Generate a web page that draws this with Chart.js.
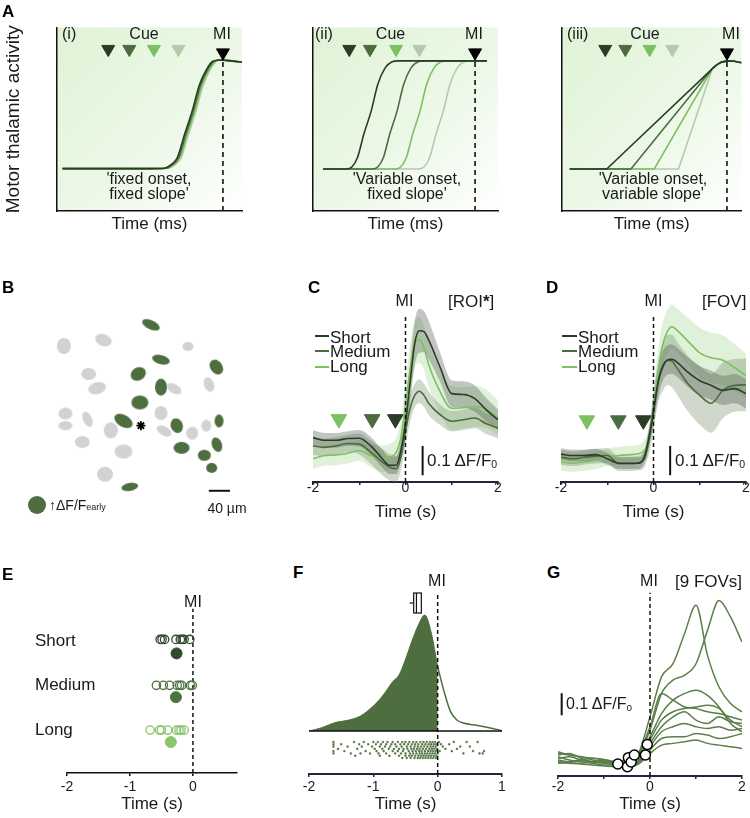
<!DOCTYPE html>
<html><head><meta charset="utf-8">
<script src="https://cdn.jsdelivr.net/npm/chart.js@4"></script>
<style>
html,body{margin:0;padding:0;background:#fff;}
#root{position:relative;width:750px;height:818px;overflow:hidden;font-family:"Liberation Sans",Arial,Helvetica,sans-serif;color:#1a1a1a;}
canvas{position:absolute;}
</style></head><body><div id="root"></div>
<script>
// ======================= DATA =======================
// Panel A (schematic): x = time (arbitrary 0-100), y = activity (0-1)
const aiCurve1 = [[3,.231],[50,.231],[58,.233],[62,.255],[65,.29],[69,.419],[73,.543],[77,.688],[81,.774],[84,.815],[88,.823],[95,.817],[100,.812]];
const aiCurve2 = [[3,.231],[50,.231],[58.7,.233],[62.7,.255],[65.7,.29],[69.7,.419],[73.7,.543],[77.7,.688],[81.7,.774],[84.7,.815],[88.4,.823],[95,.817],[100,.812]];
const aiCurve3 = [[3,.231],[50,.231],[59.4,.233],[63.4,.255],[66.4,.29],[70.4,.419],[74.4,.543],[78.4,.688],[82.4,.774],[85.4,.815],[88.8,.823],[95,.817],[100,.812]];
const aiCurve4 = [[3,.231],[50,.231],[60.1,.233],[64.1,.255],[67.1,.29],[71.1,.419],[75.1,.543],[79.1,.688],[83.1,.774],[86.1,.815],[89.2,.823],[95,.817],[100,.812]];
const aiiCurve1 = [[5.4,.229],[18,.229],[21,.24],[24,.29],[27.5,.42],[31.4,.543],[35,.69],[39,.78],[42.5,.812],[46,.818],[94,.818]];
const aiiCurve2 = [[5.4,.229],[32,.229],[35,.24],[38,.29],[41.5,.42],[45.4,.543],[49,.69],[53,.78],[56.5,.812],[60,.818],[94,.818]];
const aiiCurve3 = [[5.4,.229],[44.4,.229],[47.4,.24],[50.4,.29],[53.9,.42],[57.8,.543],[61.4,.69],[65.4,.78],[68.9,.812],[72.4,.818],[94,.818]];
const aiiCurve4 = [[5.4,.229],[57,.229],[60,.24],[63,.29],[66.5,.42],[70.4,.543],[74,.69],[78,.78],[81.5,.812],[85,.818],[94,.818]];
const aiiiCurve1 = [[4.3,.229],[24.9,.229],[83.8,.776],[86,.795],[88.5,.81],[92,.818],[96,.816],[100,.808]];
const aiiiCurve2 = [[4.3,.229],[38.4,.229],[83.8,.776],[86,.795],[88.5,.81],[92,.818],[96,.816],[100,.808]];
const aiiiCurve3 = [[4.3,.229],[51.4,.229],[83.8,.776],[86,.795],[88.5,.81],[92,.818],[96,.816],[100,.808]];
const aiiiCurve4 = [[4.3,.229],[64.9,.229],[83.8,.776],[86,.795],[88.5,.81],[92,.818],[96,.816],[100,.808]];
const aiCue = [27.7,39.1,52.4,65.6];
const aiiCue = [19.6,30.8,44.9,57.5];
const aiiiCue = [24.1,35.3,48.8,61.5];
const aMI = [89.7,87.6,91.9];
const cueLevel = 0.882, miLevel = 0.863, miDashTop = 0.828;

// Panel B: ROI centres (µm) and shapes
const bGrayX = [47,122,282,94,110,322,256,50,50,92,136,231,237,290,317,82,160,125];
const bGrayY = [70,59,71,123,150,143,151,198,221,209,230,197,231,235,221,252,270,313];
const bGreenX = [212,231,336,188,231,191,160,261,341,270,337,313,327,172];
const bGreenY = [30,96,110,123,148,177,212,221,212,263,257,277,301,337];
const bStar = [193,221];

// Panels C & D: time grid (s), mean ΔF/F and s.e.m.
const gridCD = [-2,-1.75,-1.5,-1.25,-1,-0.75,-0.5,-0.35,-0.2,-0.1,0,0.1,0.2,0.3,0.4,0.5,0.75,1,1.25,1.5,1.75,2];
const cShort  = [0,-0.009,-0.009,-0.003,-0.002,-0.028,-0.072,-0.094,-0.094,-0.044,0.05,0.189,0.322,0.364,0.361,0.333,0.239,0.15,0.147,0.133,0.094,0.061];
const cMedium = [-0.028,-0.033,-0.028,-0.02,-0.022,-0.05,-0.083,-0.1,-0.106,-0.067,0.022,0.1,0.144,0.158,0.144,0.117,0.078,0.056,0.061,0.067,0.047,0.033];
const cLong   = [-0.072,-0.061,-0.059,-0.053,-0.044,-0.061,-0.072,-0.067,-0.05,0,0.111,0.233,0.317,0.333,0.306,0.25,0.156,0.1,0.102,0.106,0.098,0.067];
const cShortSem  = [0.025,0.025,0.025,0.025,0.028,0.03,0.03,0.03,0.03,0.035,0.05,0.07,0.075,0.075,0.07,0.065,0.05,0.045,0.045,0.045,0.04,0.035];
const cMediumSem = [0.03,0.03,0.03,0.03,0.035,0.04,0.045,0.045,0.045,0.045,0.05,0.045,0.04,0.04,0.04,0.04,0.035,0.035,0.035,0.035,0.035,0.035];
const cLongSem   = [0.035,0.035,0.035,0.035,0.035,0.04,0.045,0.045,0.05,0.06,0.08,0.085,0.08,0.078,0.075,0.075,0.075,0.075,0.07,0.07,0.065,0.06];
const dShort  = [-0.056,-0.061,-0.061,-0.058,-0.072,-0.087,-0.087,-0.087,-0.067,0,0.089,0.189,0.244,0.264,0.267,0.258,0.222,0.194,0.178,0.161,0.167,0.15];
const dMedium = [-0.067,-0.072,-0.067,-0.063,-0.061,-0.089,-0.089,-0.087,-0.072,-0.011,0.089,0.189,0.239,0.264,0.261,0.239,0.183,0.144,0.117,0.161,0.178,0.18];
const dLong   = [-0.083,-0.087,-0.083,-0.078,-0.067,-0.061,-0.058,-0.056,-0.044,-0.011,0.089,0.222,0.317,0.361,0.378,0.367,0.328,0.289,0.272,0.264,0.239,0.211];
const dShortSem  = [0.02,0.02,0.02,0.02,0.02,0.02,0.02,0.02,0.02,0.03,0.04,0.05,0.05,0.05,0.05,0.05,0.05,0.05,0.05,0.05,0.05,0.05];
const dMediumSem = [0.025,0.025,0.025,0.025,0.025,0.025,0.025,0.025,0.03,0.04,0.06,0.07,0.08,0.085,0.09,0.09,0.095,0.1,0.1,0.095,0.09,0.09];
const dLongSem   = [0.03,0.03,0.03,0.03,0.03,0.03,0.03,0.03,0.035,0.05,0.07,0.075,0.075,0.075,0.075,0.075,0.08,0.085,0.085,0.085,0.08,0.075];
const cCueT = [-1.44,-0.72,-0.22];
const dCueT = [-1.44,-0.76,-0.22];

// Panel E: onset times (s) per FOV and means
const eShort  = [-0.52,-0.49,-0.45,-0.27,-0.2,-0.17,-0.14,-0.05];
const eMedium = [-0.58,-0.47,-0.37,-0.25,-0.21,-0.18,-0.04,-0.01];
const eLong   = [-0.68,-0.53,-0.5,-0.4,-0.26,-0.22,-0.19,-0.14];
const eMeans  = [-0.26,-0.27,-0.35];
const eErr    = [0.05,0.05,0.05];
const eRowY   = [8.12,5.33,2.61];
const eMeanY  = [7.27,4.61,1.88];

// Panel F: onset density (arb.), box stats, raster of onsets
const fT1 = [-2,-1.8,-1.6,-1.4,-1.2,-1,-0.9,-0.8,-0.7,-0.6,-0.5,-0.4,-0.3,-0.2,-0.1,0];
const fD1 = [0,10,25,32,45,75,95,120,148,168,215,270,318,348,295,193];
const fT2 = [0,0.1,0.2,0.3,0.4,0.6,0.8,1.0];
const fD2 = [193,118,58,33,24,17,10,1];
const fBox = [-0.435,-0.373,-0.33,-0.254,-0.254];
const fRaster = [
  [-1.62,-1.3,-1.15,-1.0,-0.93,-0.85,-0.78,-0.7,-0.62,-0.55,-0.5,-0.44,-0.38,-0.33,-0.27,-0.22,-0.17,-0.12,-0.08,-0.04,0.02,0.25,0.45,0.62],
  [-1.62,-1.5,-1.22,-1.08,-0.96,-0.88,-0.8,-0.72,-0.66,-0.58,-0.52,-0.46,-0.4,-0.35,-0.3,-0.24,-0.19,-0.14,-0.1,-0.06,-0.02,0.05,0.18],
  [-1.62,-1.4,-1.18,-1.02,-0.9,-0.82,-0.74,-0.64,-0.56,-0.48,-0.42,-0.36,-0.31,-0.26,-0.21,-0.16,-0.11,-0.07,-0.03,0.08,0.35,0.5],
  [-1.55,-1.25,-0.98,-0.86,-0.76,-0.68,-0.6,-0.53,-0.47,-0.41,-0.37,-0.32,-0.28,-0.23,-0.18,-0.13,-0.09,-0.05,-0.01,0.12,0.3],
  [-1.62,-1.45,-1.12,-0.95,-0.84,-0.7,-0.62,-0.54,-0.45,-0.39,-0.34,-0.29,-0.25,-0.2,-0.15,-0.11,-0.07,-0.03,0.03,0.22,0.55,0.72],
  [-1.62,-1.35,-1.2,-1.05,-0.92,-0.8,-0.66,-0.57,-0.5,-0.43,-0.38,-0.33,-0.28,-0.24,-0.2,-0.16,-0.12,-0.08,-0.04,0.0,0.4,0.65,0.7],
  [-1.28,-0.9,-0.75,-0.6,-0.5,-0.44,-0.4,-0.35,-0.3,-0.26,-0.22,-0.18,-0.14,-0.1,-0.06,-0.02],
  [-0.55,-0.48,-0.42,-0.36,-0.31,-0.27,-0.23,-0.19,-0.15,-0.11,-0.07,-0.03]
];

// Panel G: 9 FOV mean traces (ΔF/F) and onsets
const gGrid = [-2,-1.75,-1.5,-1.25,-1,-0.75,-0.5,-0.25,0,0.25,0.5,0.75,1,1.25,1.5,1.75,2];
const gFov1 = [0.038,0.023,0.015,0,-0.008,-0.015,-0.012,0.03,0.197,0.379,0.439,0.576,0.705,0.477,0.333,0.258,0.22];
const gFov2 = [0.023,0.03,0.008,-0.008,0,-0.008,-0.008,0.023,0.136,0.303,0.364,0.386,0.439,0.591,0.727,0.652,0.538];
const gFov3 = [0.008,0.015,0,-0.008,-0.012,-0.008,0,0.03,0.152,0.303,0.273,0.242,0.235,0.22,0.212,0.197,0.182];
const gFov4 = [0,-0.008,0,0.008,0,-0.012,-0.015,0.015,0.106,0.212,0.273,0.303,0.318,0.295,0.242,0.167,0.129];
const gFov5 = [-0.008,-0.012,-0.015,-0.008,-0.008,-0.015,-0.023,0,0.091,0.182,0.22,0.235,0.242,0.25,0.235,0.182,0.152];
const gFov6 = [0.03,0.023,0.015,0.008,0.003,-0.008,-0.015,0,0.076,0.152,0.197,0.22,0.182,0.167,0.197,0.174,0.167];
const gFov7 = [-0.015,-0.008,0,-0.008,-0.015,-0.023,-0.023,-0.008,0.061,0.129,0.152,0.167,0.152,0.144,0.152,0.136,0.144];
const gFov8 = [0.015,0,-0.008,-0.015,-0.023,-0.023,-0.03,-0.012,0.045,0.098,0.106,0.106,0.121,0.114,0.098,0.106,0.121];
const gFov9 = [-0.012,-0.015,-0.018,-0.023,-0.027,-0.03,-0.033,-0.018,0.03,0.068,0.076,0.083,0.091,0.076,0.068,0.061,0.053];
const gOnsetT = [-0.70,-0.49,-0.47,-0.41,-0.34,-0.10,-0.06];
const gOnsetV = [-0.018,-0.03,0.011,-0.009,0.023,0.023,0.071];

// ======================= STYLE =======================
const FONT = '"Liberation Sans", Arial, Helvetica, sans-serif';
const TXT = '#1a1a1a', AX = '#25253a';
const cDark = '#2a3c26', cMed = '#4b6c3f', cLight = '#7dc062', cPale = '#b3cba8';
const green = '#4e6e3f';
Chart.defaults.font.family = FONT;
Chart.defaults.color = TXT;

const root = document.getElementById('root');
function mk(left, top, w, h, cfg) {
  const c = document.createElement('canvas');
  c.width = w; c.height = h;
  c.style.left = left + 'px'; c.style.top = top + 'px';
  c.style.width = w + 'px'; c.style.height = h + 'px';
  root.appendChild(c);
  cfg.options = cfg.options || {};
  Object.assign(cfg.options, {responsive:false, maintainAspectRatio:false, animation:false, devicePixelRatio:1, events:[]});
  cfg.options.plugins = Object.assign({legend:{display:false}, tooltip:{enabled:false}}, cfg.options.plugins || {});
  return new Chart(c, cfg);
}
function txt(x, base, html, size, align, extra) {
  const d = document.createElement('div');
  d.innerHTML = html;
  const tx = align === 'center' ? '-50%' : (align === 'right' ? '-100%' : '0');
  d.style.cssText = 'position:absolute;left:' + x + 'px;top:' + (base - 0.8465 * size) + 'px;font-size:' + size + 'px;line-height:1;white-space:nowrap;transform:translateX(' + tx + ');' + (extra || '');
  root.appendChild(d);
}
function box(left, top, w, h, css) {
  const d = document.createElement('div');
  d.style.cssText = 'position:absolute;left:' + left + 'px;top:' + top + 'px;width:' + w + 'px;height:' + h + 'px;' + css;
  root.appendChild(d);
}
const pairs = arr => arr.map(p => ({x:p[0], y:p[1]}));
const pts = (xs, ys) => xs.map((x, i) => ({x:x, y:ys[i]}));
const SUB0 = '<span style="font-size:0.62em;vertical-align:-0.22em">0</span>';

// ======================= PANEL A =======================
const aCols = [cDark, cMed, cLight, cPale];
const aBg = {id:'aBg', beforeDraw(ch) {
  const ctx = ch.ctx, a = ch.chartArea;
  const g = ctx.createLinearGradient(a.left, a.top, a.right, a.bottom);
  g.addColorStop(0, '#dff3d6'); g.addColorStop(0.55, '#ecf8e7'); g.addColorStop(1, '#ffffff');
  ctx.save(); ctx.fillStyle = g; ctx.fillRect(a.left, a.top, a.right - a.left, a.bottom - a.top); ctx.restore();
}};
function aChart(left, width, padL, padR, yW, yTitle, curves, cues, miT, straight) {
  const ds = curves.map((c, i) => ({data:pairs(c), borderColor:aCols[i], borderWidth:1.6, pointRadius:0, fill:false, tension:0,
    cubicInterpolationMode: straight ? 'default' : 'monotone', order:2}));
  ds.push({data:cues.map(t => ({x:t, y:cueLevel})), showLine:false, pointStyle:'triangle', pointRotation:180, pointRadius:7.5,
    pointBackgroundColor:aCols, pointBorderColor:aCols, pointBorderWidth:1, order:1});
  ds.push({data:[{x:miT, y:miLevel}], showLine:false, pointStyle:'triangle', pointRotation:180, pointRadius:7.5,
    pointBackgroundColor:'#000', pointBorderColor:'#000', pointBorderWidth:1, order:1});
  ds.push({data:[{x:miT, y:0}, {x:miT, y:miDashTop}], borderColor:'#111', borderWidth:1.6, borderDash:[5,4], pointRadius:0, order:3});
  return mk(left, 19, width, 216, {type:'line', data:{datasets:ds}, plugins:[aBg], options:{
    layout:{padding:{left:padL, right:padR, top:6, bottom:0}},
    scales:{
      x:{type:'linear', min:0, max:100, ticks:{display:false}, grid:{display:false}, border:{display:true, color:'#111', width:1.5},
         title:{display:true, text:'Time (ms)', font:{size:17}, padding:0, color:TXT}, afterFit: s => { s.height = 24; }},
      y:{min:0, max:1, ticks:{display:false}, grid:{display:false}, border:{display:true, color:'#111', width:1.5},
         title: yTitle ? {display:true, text:yTitle, font:{size:19}, padding:{top:2, bottom:0}, color:TXT} : {display:false},
         afterFit: s => { s.width = yW; }}
    }}});
}
aChart(0, 254, 0, 12, 57, 'Motor thalamic activity', [aiCurve1, aiCurve2, aiCurve3, aiCurve4], aiCue, aMI[0], false);
aChart(301, 209, 12, 12, 0, null, [aiiCurve1, aiiCurve2, aiiCurve3, aiiCurve4], aiiCue, aMI[1], false);
aChart(550, 200, 12, 3, 0, null, [aiiiCurve1, aiiiCurve2, aiiiCurve3, aiiiCurve4], aiiiCue, aMI[2], true);

// ======================= PANEL B =======================
const bGrayW = [14,17,11,15,18,10,16,14,14,9,14,13,16,12,10,15,18,16];
const bGrayH = [16,12,9,12,12,15,9,12,9,16,16,14,9,13,12,12,14,15];
const bGrayRot = [0,20,0,0,-15,-20,30,0,0,-25,0,0,30,0,0,0,0,0];
const bGreenW = [19,18,12,16,12,17,20,12,9,16,10,13,11,17];
const bGreenH = [9,9,16,13,17,14,12,15,13,12,15,11,10,8];
const bGreenRot = [25,15,-35,-30,0,0,30,-20,0,0,-20,0,0,-10];
function ell(w, h, col) {
  const c = document.createElement('canvas');
  c.width = Math.ceil(w) + 2; c.height = Math.ceil(h) + 2;
  const x = c.getContext('2d');
  x.fillStyle = col; x.beginPath(); x.ellipse(c.width / 2, c.height / 2, w / 2, h / 2, 0, 0, Math.PI * 2); x.fill();
  return c;
}
const umMax = 382.6;
mk(30, 300, 220, 220, {type:'scatter', data:{datasets:[
  {data:pts(bGrayX, bGrayY), pointStyle:bGrayW.map((w, i) => ell(w, bGrayH[i], '#d2d2d2')), pointRotation:bGrayRot, pointRadius:8, clip:false},
  {data:pts(bGreenX, bGreenY), pointStyle:bGreenW.map((w, i) => ell(w, bGreenH[i], green)), pointRotation:bGreenRot, pointRadius:8, clip:false},
  {data:[{x:bStar[0], y:bStar[1]}], pointStyle:'star', pointRadius:4.5, pointBorderColor:'#000', pointBorderWidth:1.8},
  {data:[{x:321.7, y:344.3}, {x:361.7, y:344.3}], showLine:true, borderColor:'#111', borderWidth:2, pointRadius:0}
]}, options:{layout:{padding:0}, scales:{
  x:{display:false, min:0, max:umMax}, y:{display:false, min:0, max:umMax, reverse:true}}}});

// ======================= PANELS C & D =======================
function cdChart(left, S, M, L, Ss, Ms, Ls, cueT, cueV, barT) {
  const ds = [];
  const band = (mean, sem, col, ord) => {
    ds.push({data:gridCD.map((t, i) => ({x:t, y:mean[i] + sem[i]})), fill:'+1', backgroundColor:col, borderColor:'rgba(0,0,0,0)', borderWidth:0, pointRadius:0, cubicInterpolationMode:'monotone', order:ord});
    ds.push({data:gridCD.map((t, i) => ({x:t, y:mean[i] - sem[i]})), fill:false, borderColor:'rgba(0,0,0,0)', borderWidth:0, pointRadius:0, cubicInterpolationMode:'monotone', order:ord});
  };
  band(L, Ls, 'rgba(160,212,140,0.32)', 9);
  band(M, Ms, 'rgba(110,138,98,0.33)', 8);
  band(S, Ss, 'rgba(70,82,66,0.33)', 7);
  const line = (d, col, ord) => ds.push({data:pts(gridCD, d), borderColor:col, borderWidth:1.6, pointRadius:0, fill:false, cubicInterpolationMode:'monotone', order:ord});
  line(L, cLight, 4); line(M, cMed, 3); line(S, cDark, 2);
  ds.push({data:[{x:0, y:-0.1511}, {x:0, y:0.42}], borderColor:'#111', borderWidth:1.5, borderDash:[4,3], pointRadius:0, order:1});
  const tc = [cLight, cMed, cDark];
  ds.push({data:cueT.map(t => ({x:t, y:cueV})), showLine:false, pointStyle:'triangle', pointRotation:180, pointRadius:9,
    pointBackgroundColor:tc, pointBorderColor:tc, pointBorderWidth:1, order:0});
  ds.push({data:[{x:barT, y:-0.128}, {x:barT, y:-0.028}], borderColor:'#111', borderWidth:2, pointRadius:0, order:0});
  return mk(left, 290, 209, 233, {type:'line', data:{datasets:ds}, options:{
    layout:{padding:{left:12, right:12, top:6, bottom:0}},
    scales:{
      x:{type:'linear', min:-2, max:2, afterBuildTicks: s => { s.ticks = [-2,-1,0,1,2].map(v => ({value:v})); },
         ticks:{callback: v => (v % 2 === 0 ? String(v) : ''), font:{size:14, lineHeight:1}, padding:-4, color:TXT, maxRotation:0, autoSkip:false},
         grid:{display:true, drawOnChartArea:false, drawTicks:true, tickLength:3, color:AX, lineWidth:1.5},
         border:{display:true, color:AX, width:2},
         title:{display:true, text:'Time (s)', font:{size:17}, padding:0, color:TXT}, afterFit: s => { s.height = 41; }},
      y:{display:false, min:-0.1511, max:0.4689}
    }}});
}
cdChart(301, cShort, cMedium, cLong, cShortSem, cMediumSem, cLongSem, cCueT, 0.063, 0.37);
cdChart(549, dShort, dMedium, dLong, dShortSem, dMediumSem, dLongSem, dCueT, 0.059, 0.36);

// ======================= PANEL E =======================
const eCols = ['#2f4a2b', '#4d7341', '#88c56c'];
const eOpen = [eShort, eMedium, eLong];
const eDs = [];
eOpen.forEach((row, r) => {
  eDs.push({data:row.map(t => ({x:t, y:eRowY[r]})), showLine:false, pointStyle:'circle', pointRadius:4.2,
    pointBackgroundColor:'rgba(255,255,255,0)', pointBorderColor:eCols[r], pointBorderWidth:1.3, order:2});
  eDs.push({data:[{x:eMeans[r] - eErr[r], y:eMeanY[r]}, {x:eMeans[r] + eErr[r], y:eMeanY[r]}], borderColor:eCols[r], borderWidth:1.5, pointRadius:0, order:2});
  eDs.push({data:[{x:eMeans[r], y:eMeanY[r]}], showLine:false, pointStyle:'circle', pointRadius:5.5,
    pointBackgroundColor:eCols[r], pointBorderColor:eCols[r], pointBorderWidth:1, order:1});
});
eDs.push({data:[{x:0, y:0}, {x:0, y:10}], borderColor:'#111', borderWidth:1.5, borderDash:[4,3], pointRadius:0, order:3});
mk(55, 602, 194, 213, {type:'line', data:{datasets:eDs}, options:{
  layout:{padding:{left:12, right:12, top:6, bottom:0}},
  scales:{
    x:{type:'linear', min:-2, max:0.7, afterBuildTicks: s => { s.ticks = [-2,-1,0].map(v => ({value:v})); },
       ticks:{callback: v => String(v), font:{size:14, lineHeight:1}, padding:4, color:TXT, maxRotation:0, autoSkip:false},
       grid:{display:true, drawOnChartArea:false, drawTicks:true, tickLength:3, color:'#111', lineWidth:1.5},
       border:{display:true, color:'#111', width:1.5},
       title:{display:true, text:'Time (s)', font:{size:17}, padding:0, color:TXT}, afterFit: s => { s.height = 42; }},
    y:{display:false, min:0, max:10}
  }}});

// ======================= PANEL F =======================
const fRasterPts = [];
fRaster.forEach((row, i) => row.forEach(t => fRasterPts.push({x:t, y:i + 1})));
const fBoxPlugin = {id:'fBox', afterDatasetsDraw(ch) {
  const ctx = ch.ctx, xs = ch.scales.x, ys = ch.scales.y;
  const yt = ys.getPixelForValue(414), yb = ys.getPixelForValue(354), ym = (yt + yb) / 2;
  const [mn, q1, md, q3, mx] = fBox.map(v => xs.getPixelForValue(v));
  ctx.save(); ctx.strokeStyle = '#111'; ctx.lineWidth = 1.2; ctx.fillStyle = '#fff';
  ctx.beginPath(); ctx.moveTo(mn, ym); ctx.lineTo(q1, ym); ctx.moveTo(q3, ym); ctx.lineTo(mx, ym); ctx.stroke();
  ctx.fillRect(q1, yt, q3 - q1, yb - yt); ctx.strokeRect(q1, yt, q3 - q1, yb - yt);
  ctx.beginPath(); ctx.moveTo(md, yt); ctx.lineTo(md, yb); ctx.stroke();
  ctx.restore();
}};
mk(297, 584, 217, 231, {type:'line', data:{datasets:[
  {data:pts(fT1, fD1), fill:'origin', backgroundColor:green, borderColor:green, borderWidth:1, pointRadius:0, cubicInterpolationMode:'monotone', order:3},
  {data:pts(fT2, fD2), fill:false, borderColor:green, borderWidth:1.5, pointRadius:0, cubicInterpolationMode:'monotone', order:3},
  {data:[{x:-2, y:0}, {x:1, y:0}], borderColor:'#111', borderWidth:1.5, pointRadius:0, order:2},
  {data:fRasterPts, yAxisID:'y2', showLine:false, pointStyle:'rect', pointRadius:1.1, pointBackgroundColor:green, pointBorderColor:green, pointBorderWidth:0.5, order:2},
  {data:[{x:0, y:-129}, {x:0, y:414}], borderColor:'#111', borderWidth:1.5, borderDash:[4,3], pointRadius:0, order:1}
]}, plugins:[fBoxPlugin], options:{
  layout:{padding:{left:12, right:12, top:6, bottom:0}},
  scales:{
    x:{type:'linear', min:-2, max:1, afterBuildTicks: s => { s.ticks = [-2,-1,0,1].map(v => ({value:v})); },
       ticks:{callback: v => String(v), font:{size:14, lineHeight:1}, padding:3, color:TXT, maxRotation:0, autoSkip:false},
       grid:{display:true, drawOnChartArea:false, drawTicks:true, tickLength:3, color:AX, lineWidth:1.5},
       border:{display:true, color:AX, width:2},
       title:{display:true, text:'Time (s)', font:{size:17}, padding:0, color:TXT}, afterFit: s => { s.height = 41; }},
    y:{display:false, min:-129, max:423},
    y2:{display:false, min:-65.5, max:15, reverse:true}
  }}});

// ======================= PANEL G =======================
const gFovs = [gFov1, gFov2, gFov3, gFov4, gFov5, gFov6, gFov7, gFov8, gFov9];
const gDs = gFovs.map(f => ({data:pts(gGrid, f), borderColor:'#5b7e4b', borderWidth:1.5, pointRadius:0, fill:false, cubicInterpolationMode:'monotone', order:3}));
gDs.push({data:[{x:0, y:-0.0727}, {x:0, y:0.7636}], borderColor:'#111', borderWidth:1.5, borderDash:[4,3], pointRadius:0, order:2});
gDs.push({data:pts(gOnsetT, gOnsetV), showLine:false, pointStyle:'circle', pointRadius:5, pointBackgroundColor:'#fff', pointBorderColor:'#000', pointBorderWidth:1.5, order:1});
gDs.push({data:[{x:-1.92, y:0.2045}, {x:-1.92, y:0.3045}], borderColor:'#111', borderWidth:2, pointRadius:0, order:1});
mk(546, 586, 208, 229, {type:'line', data:{datasets:gDs}, options:{
  layout:{padding:{left:12, right:12, top:6, bottom:0}},
  scales:{
    x:{type:'linear', min:-2, max:2, afterBuildTicks: s => { s.ticks = [-2,-1,0,1,2].map(v => ({value:v})); },
       ticks:{callback: v => (v % 2 === 0 ? String(v) : ''), font:{size:14, lineHeight:1}, padding:1, color:TXT, maxRotation:0, autoSkip:false},
       grid:{display:true, drawOnChartArea:false, drawTicks:true, tickLength:3, color:AX, lineWidth:1.5},
       border:{display:true, color:AX, width:2},
       title:{display:true, text:'Time (s)', font:{size:17}, padding:0, color:TXT}, afterFit: s => { s.height = 39; }},
    y:{display:false, min:-0.0727, max:0.7636}
  }}});

// ======================= TEXT =======================
[['A',2,17],['B',2,293],['C',308,293],['D',546,293],['E',2,580],['F',293,578],['G',547,578]].forEach(l => txt(l[1], l[2], l[0], 17, 'left', 'font-weight:bold;color:#000'));
txt(62, 40, '(i)', 16); txt(144, 40, 'Cue', 16, 'center'); txt(222, 40, 'MI', 16, 'center');
txt(315, 40, '(ii)', 16); txt(390.5, 40, 'Cue', 16, 'center'); txt(474, 40, 'MI', 16, 'center');
txt(567, 40, '(iii)', 16); txt(645, 40, 'Cue', 16, 'center'); txt(731, 40, 'MI', 16, 'center');
txt(149, 185, "'fixed onset,", 16, 'center'); txt(149, 200, "fixed slope'", 16, 'center');
txt(407, 185, "'Variable onset,", 16, 'center'); txt(407, 200, "fixed slope'", 16, 'center');
txt(653, 185, "'Variable onset,", 16, 'center'); txt(653, 200, "variable slope'", 16, 'center');
// B legend
box(28, 496, 18, 18, 'border-radius:50%;background:' + green + ';');
txt(49, 510, '<b>&#8593;</b>&Delta;F/F<span style="font-size:9px">early</span>', 14);
txt(227, 512.5, '40 &micro;m', 14, 'center');
// C
txt(404.5, 307, 'MI', 16, 'center'); txt(448, 307, '[ROI<b>*</b>]', 17);
[[336, cDark, 'Short', 343], [351, cMed, 'Medium', 357.5], [366.5, cLight, 'Long', 372]].forEach(r => {
  box(315, r[0] - 1, 14, 2, 'background:' + r[1] + ';'); txt(330, r[3], r[2], 17);
  box(562, r[0] - 1, 15, 2, 'background:' + r[1] + ';'); txt(578, r[3], r[2], 17);
});
txt(427, 466, '0.1 &Delta;F/F' + SUB0, 17);
// D
txt(653.5, 307, 'MI', 16, 'center'); txt(702, 307, '[FOV]', 17);
txt(675, 466, '0.1 &Delta;F/F' + SUB0, 17);
// E
txt(193, 608, 'MI', 16, 'center');
txt(35, 646, 'Short', 17); txt(35, 690.5, 'Medium', 17); txt(35, 735, 'Long', 17);
// F
txt(437, 587, 'MI', 16, 'center');
// G
txt(649, 587, 'MI', 16, 'center'); txt(675, 587, '[9 FOVs]', 17);
txt(566, 710, '0.1 &Delta;F/F' + SUB0, 16);
</script>
</body></html>
